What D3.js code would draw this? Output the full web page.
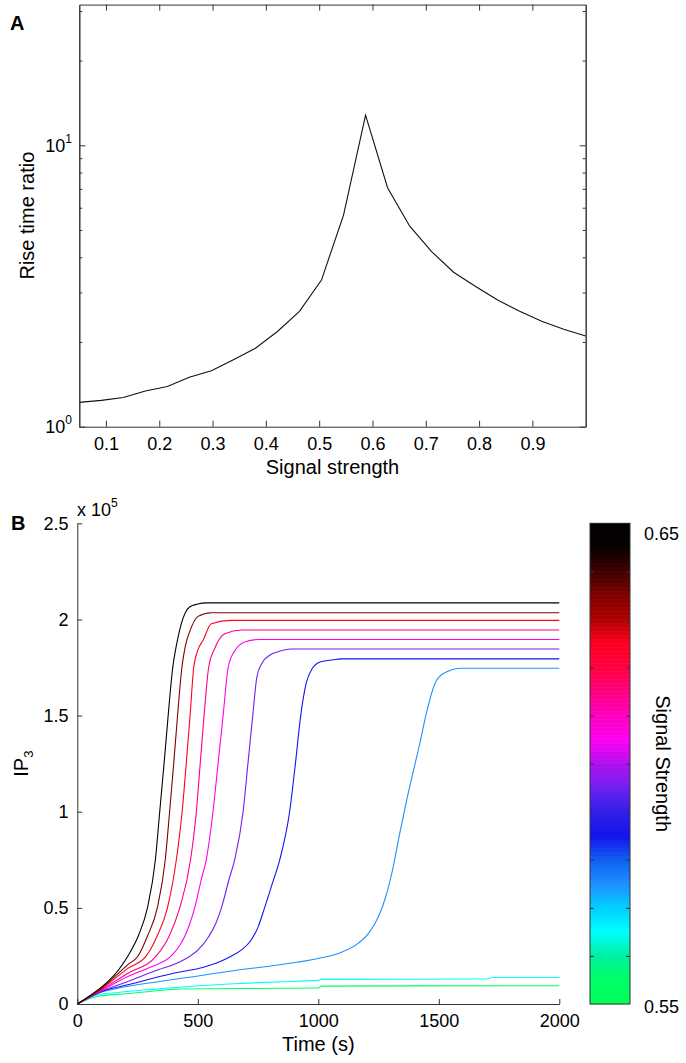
<!DOCTYPE html>
<html><head><meta charset="utf-8">
<script src="https://cdn.jsdelivr.net/npm/d3@7"></script>
<style>
body{margin:0;background:#fff;}
svg{display:block;font-family:"Liberation Sans",Arial,Helvetica,sans-serif;}
</style></head><body>
<svg id="chart" width="686" height="1063"></svg>
<script>
// ---------- Panel A data ----------
const signalA = [0.05,0.0913,0.1326,0.1739,0.2152,0.2565,0.2978,0.3391,0.3804,0.4217,0.4630,0.5043,0.5457,0.5870,0.6283,0.6696,0.7109,0.7522,0.7935,0.8348,0.8761,0.9174,0.9587,1.0];
const riseRatio = [1.22,1.24,1.27,1.34,1.39,1.50,1.58,1.73,1.90,2.18,2.57,3.32,5.65,12.8,7.07,5.17,4.19,3.54,3.15,2.82,2.57,2.37,2.22,2.10];
const xTicksA = [0.1,0.2,0.3,0.4,0.5,0.6,0.7,0.8,0.9];
const yMajorA = [1,10];
const yMinorA = [2,3,4,5,6,7,8,9,20,30];

// ---------- Panel B data (IP3 in units of 10^5) ----------
const timeTicks = [0,500,1000,1500,2000];
const ip3Ticks = [0,0.5,1,1.5,2,2.5];
const ip3_0645 = [[0,0],[100,0.088],[134,0.125],[210,0.25],[255,0.36],[291,0.5],[324,0.75],[342,1.0],[360,1.25],[377,1.5],[396,1.75],[412,1.87],[432,1.98],[466,2.065],[500,2.08],[535,2.086],[2000,2.086]];
const ip3_0635 = [[0,0],[100,0.082],[210,0.205],[252,0.25],[290,0.35],[332,0.5],[365,0.75],[383,1.0],[400,1.25],[416,1.5],[434,1.75],[448,1.86],[466,1.935],[501,2.016],[556,2.035],[2000,2.035]];
const ip3_0625 = [[0,0],[100,0.078],[210,0.185],[286,0.25],[330,0.35],[374,0.5],[411,0.75],[435,1.0],[452,1.25],[468,1.5],[483,1.75],[500,1.84],[522,1.892],[556,1.978],[639,1.995],[2000,1.995]];
const ip3_0615 = [[0,0],[100,0.074],[210,0.16],[328,0.25],[380,0.35],[425,0.5],[470,0.75],[494,1.0],[510,1.25],[526,1.5],[545,1.75],[570,1.849],[612,1.926],[681,1.945],[2000,1.945]];
const ip3_0605 = [[0,0],[100,0.07],[210,0.143],[300,0.19],[390,0.25],[420,0.295],[445,0.35],[487,0.5],[515,0.65],[535,0.75],[563,1.0],[584,1.25],[605,1.5],[626,1.75],[650,1.83],[695,1.883],[757,1.896],[2000,1.896]];
const ip3_0595 = [[0,0],[100,0.067],[210,0.117],[335,0.178],[400,0.205],[450,0.235],[500,0.28],[545,0.35],[575,0.42],[598,0.5],[630,0.65],[653,0.75],[688,1.0],[708,1.25],[728,1.5],[745,1.7],[765,1.77],[800,1.815],[833,1.832],[888,1.846],[2000,1.846]];
const ip3_0585 = [[0,0],[100,0.064],[210,0.10],[400,0.16],[520,0.19],[560,0.205],[600,0.225],[640,0.25],[680,0.28],[720,0.33],[750,0.40],[777,0.5],[810,0.63],[840,0.75],[881,1.0],[905,1.25],[927,1.5],[950,1.67],[975,1.745],[1010,1.78],[1061,1.79],[1096,1.795],[2000,1.795]];
const ip3_0575 = [[0,0],[86,0.056],[169,0.082],[335,0.116],[501,0.146],[667,0.177],[833,0.203],[999,0.237],[1082,0.263],[1165,0.315],[1210,0.37],[1248,0.45],[1278,0.55],[1305,0.68],[1340,0.90],[1372,1.09],[1422,1.36],[1450,1.52],[1484,1.667],[1519,1.719],[1595,1.746],[2000,1.746]];
const ip3_0565 = [[0,0],[86,0.048],[170,0.06],[300,0.075],[450,0.09],[650,0.105],[830,0.115],[1000,0.123],[1010,0.128],[1700,0.13],[1720,0.138],[2000,0.138]];
const ip3_0555 = [[0,0],[86,0.04],[170,0.05],[300,0.065],[420,0.078],[1000,0.083],[1012,0.093],[2000,0.095]];
const curveSignals = [0.555,0.565,0.575,0.585,0.595,0.605,0.615,0.625,0.635,0.645];
const curveData = [ip3_0555,ip3_0565,ip3_0575,ip3_0585,ip3_0595,ip3_0605,ip3_0615,ip3_0625,ip3_0635,ip3_0645];

// ---------- Colormap ----------
const cmapStops = [0.550,0.555,0.560,0.565,0.570,0.575,0.580,0.585,0.590,0.595,0.600,0.605,0.610,0.615,0.620,0.625,0.630,0.635,0.640,0.645,0.650];
const cmapColors = ["#00ff5a","#00ff66","#00f0a0","#00ffff","#00d0ff","#1e90ff","#1060f0","#1414ee","#3020e8","#7020f0","#b010f0","#ff00f0","#ff00c0","#ff0080","#ff0040","#ff0020","#b00000","#800000","#400000","#080000","#000000"];
const cbarTicks = [0.56,0.57,0.58,0.59,0.60,0.61,0.62,0.63,0.64];
const cbarEnds = [0.55,0.65];

const svg = d3.select("#chart");
const axisCol = "#333";
const FS = 18;   // tick labels
const LFS = 20;  // axis labels

function styleAxis(g){
  g.selectAll(".domain").attr("stroke",axisCol).attr("stroke-width",1);
  g.selectAll(".tick line").attr("stroke",axisCol).attr("stroke-width",1);
  g.selectAll("text").attr("font-size",FS).attr("fill","#000").attr("font-family",null);
}

// ================= Panel A =================
const xA = d3.scaleLinear().domain([0.05,1]).range([79.3,585.7]);
const yA = d3.scaleLog().domain([1,Math.pow(10,1.5)]).range([426.7,4.6]);
const gA = svg.append("g");

gA.append("path")
  .datum(signalA.map((s,i)=>[s,riseRatio[i]]))
  .attr("fill","none").attr("stroke","#111").attr("stroke-width",1.1)
  .attr("d", d3.line().x(d=>xA(d[0])).y(d=>yA(d[1])));

gA.append("g").attr("transform",`translate(0,${yA.range()[0]})`)
  .call(d3.axisBottom(xA).tickValues(xTicksA).tickSizeInner(-6).tickSizeOuter(0).tickPadding(10.5).tickFormat(d3.format(".1f")))
  .call(styleAxis);
gA.append("g").attr("transform",`translate(0,${yA.range()[1]})`)
  .call(d3.axisTop(xA).tickValues(xTicksA).tickSizeInner(-6).tickSizeOuter(0).tickFormat(""))
  .call(styleAxis);
const leftA = gA.append("g").attr("transform",`translate(${xA.range()[0]},0)`)
  .call(d3.axisLeft(yA).tickValues(yMajorA).tickSizeInner(-6).tickSizeOuter(0).tickPadding(7.3).tickFormat(()=>""))
  .call(styleAxis);
leftA.selectAll(".tick text").each(function(d){
  const t = d3.select(this);
  t.append("tspan").text("10");
  t.append("tspan").attr("font-size",12).attr("dy","-0.75em").text(Math.round(Math.log10(d)));
});
gA.append("g").attr("transform",`translate(${xA.range()[0]},0)`)
  .call(d3.axisLeft(yA).tickValues(yMinorA).tickSizeInner(-3).tickSizeOuter(0).tickFormat(""))
  .call(styleAxis);
gA.append("g").attr("transform",`translate(${xA.range()[1]},0)`)
  .call(d3.axisRight(yA).tickValues(yMajorA).tickSizeInner(-6).tickSizeOuter(0).tickFormat(""))
  .call(styleAxis);
gA.append("g").attr("transform",`translate(${xA.range()[1]},0)`)
  .call(d3.axisRight(yA).tickValues(yMinorA).tickSizeInner(-3).tickSizeOuter(0).tickFormat(""))
  .call(styleAxis);

gA.append("text").attr("x",(xA.range()[0]+xA.range()[1])/2).attr("y",474)
  .attr("text-anchor","middle").attr("font-size",LFS).text("Signal strength");
gA.append("text").attr("transform",`translate(33.5,${(yA.range()[0]+yA.range()[1])/2}) rotate(-90)`)
  .attr("text-anchor","middle").attr("font-size",LFS).text("Rise time ratio");
gA.append("text").attr("x",10).attr("y",30).attr("font-size",20).attr("font-weight","bold").text("A");

// ================= Panel B =================
const xB = d3.scaleLinear().domain([0,2000]).range([77.3,559.3]);
const yB = d3.scaleLinear().domain([0,2.5]).range([1004,523.3]);
const cmap = d3.scaleLinear().domain(cmapStops).range(cmapColors).interpolate(d3.interpolateRgb);
const gB = svg.append("g");

const lineB = d3.line().x(d=>xB(d[0])).y(d=>yB(d[1])).curve(d3.curveMonotoneX);
gB.selectAll("path.ip3").data(curveData).join("path")
  .attr("class","ip3")
  .attr("fill","none")
  .attr("stroke",(d,i)=>cmap(curveSignals[i]))
  .attr("stroke-width",1.1)
  .attr("d",lineB);

gB.append("g").attr("transform",`translate(0,${yB.range()[0]})`)
  .call(d3.axisBottom(xB).tickValues(timeTicks).tickSizeInner(-5).tickSizeOuter(0).tickPadding(10).tickFormat(d=>String(d)))
  .call(styleAxis);
gB.append("g").attr("transform",`translate(${xB.range()[0]},0)`)
  .call(d3.axisLeft(yB).tickValues(ip3Ticks).tickSizeInner(-5).tickSizeOuter(0).tickPadding(8.8).tickFormat(d=>String(d)))
  .call(styleAxis);

const mult = gB.append("text").attr("x",77).attr("y",516).attr("font-size",FS);
mult.append("tspan").text("x 10");
mult.append("tspan").attr("font-size",12).attr("dy","-0.75em").text("5");

gB.append("text").attr("x",(xB.range()[0]+xB.range()[1])/2).attr("y",1051)
  .attr("text-anchor","middle").attr("font-size",LFS).text("Time (s)");
const ipl = gB.append("text").attr("transform",`translate(28,${(yB.range()[0]+yB.range()[1])/2}) rotate(-90)`)
  .attr("text-anchor","middle").attr("font-size",LFS);
ipl.append("tspan").text("IP");
ipl.append("tspan").attr("font-size",13).attr("dy","0.35em").text("3");
gB.append("text").attr("x",11).attr("y",530).attr("font-size",20).attr("font-weight","bold").text("B");

// ---------- Colorbar ----------
const cb = d3.scaleLinear().domain(cbarEnds).range([1004,523.3]);
const cbX0 = 590, cbX1 = 630;
const nBands = 120;
const bandVals = d3.range(nBands).map(i=>cbarEnds[0]+(i+0.5)*(cbarEnds[1]-cbarEnds[0])/nBands);
const bandH = (cb.range()[0]-cb.range()[1])/nBands;
gB.selectAll("rect.cb").data(bandVals).join("rect")
  .attr("class","cb")
  .attr("x",cbX0).attr("width",cbX1-cbX0)
  .attr("y",d=>cb(d)-bandH/2-0.3).attr("height",bandH+0.6)
  .attr("fill",d=>cmap(d));
gB.append("rect").attr("x",cbX0).attr("y",cb.range()[1]).attr("width",cbX1-cbX0)
  .attr("height",cb.range()[0]-cb.range()[1]).attr("fill","none").attr("stroke",axisCol).attr("stroke-width",1);
gB.append("g").attr("transform",`translate(${cbX0},0)`)
  .call(d3.axisLeft(cb).tickValues(cbarTicks).tickSizeInner(-4).tickSizeOuter(0).tickFormat(""))
  .call(g=>g.select(".domain").remove())
  .call(styleAxis);
gB.append("g").attr("transform",`translate(${cbX1},0)`)
  .call(d3.axisRight(cb).tickValues(cbarTicks).tickSizeInner(-4).tickSizeOuter(0).tickFormat(""))
  .call(g=>g.select(".domain").remove())
  .call(styleAxis);
gB.append("text").attr("x",644).attr("y",cb(cbarEnds[1])+16.5).attr("font-size",FS).text(cbarEnds[1].toFixed(2));
gB.append("text").attr("x",644).attr("y",cb(cbarEnds[0])+9).attr("font-size",FS).text(cbarEnds[0].toFixed(2));
gB.append("text").attr("transform",`translate(656,${(cb.range()[0]+cb.range()[1])/2}) rotate(90)`)
  .attr("text-anchor","middle").attr("font-size",LFS).text("Signal Strength");
</script>
</body></html>
